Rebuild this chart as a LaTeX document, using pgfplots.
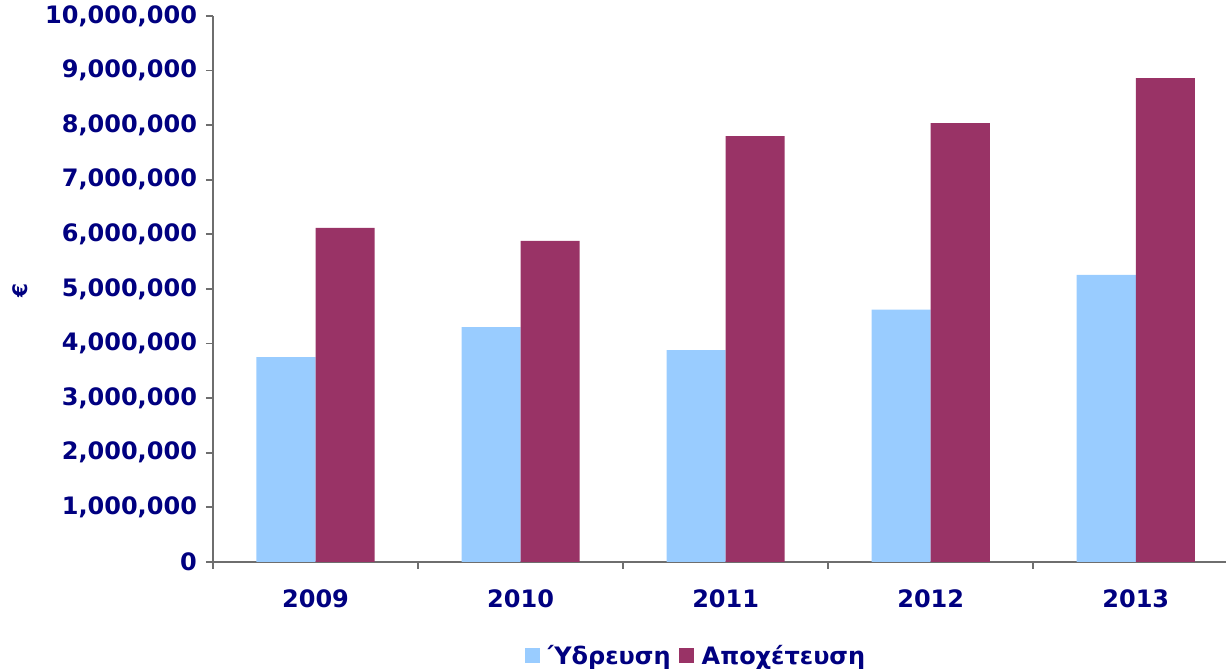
\documentclass[border=0pt]{standalone}
\usepackage{pgfplots}
\pgfplotsset{compat=1.18}
\usepackage{fontspec}
\setmainfont{DejaVu Sans}
\definecolor{labelnavy}{RGB}{0,0,128}
\definecolor{waterblue}{RGB}{153,204,255}
\definecolor{sewerred}{RGB}{153,51,102}
\definecolor{axisgray}{RGB}{110,110,110}

% Annual amounts (EUR): water supply and sewerage
\pgfplotstableread{
x   water     sewer
0   3750000   6120000
1   4300000   5880000
2   3880000   7800000
3   4620000   8040000
4   5260000   8860000
}\amounts

\begin{document}
\begin{tikzpicture}
\path[use as bounding box] (-106.5pt,-55pt) rectangle (506.5pt,281pt);
\begin{axis}[
  at={(0,0)}, anchor=south west,
  scale only axis,
  width=506.5pt, height=273pt,
  xmin=-0.5, xmax=4.44,
  ymin=0, ymax=10000000,
  axis lines*=left,
  axis line style={draw=axisgray, line width=0.9pt},
  tick align=outside,
  major tick length=3.5pt,
  minor tick length=3.5pt,
  ytick={0,1000000,...,10000000},
  scaled y ticks=false,
  /pgf/number format/fixed,
  /pgf/number format/1000 sep={,},
  /pgf/number format/assume math mode=true,
  ytick style={draw=axisgray, line width=0.9pt},
  xtick={0,1,2,3,4},
  xticklabels={2009,2010,2011,2012,2013},
  major x tick style={draw=none},
  minor xtick={-0.5,0.5,1.5,2.5,3.5},
  minor x tick style={draw=axisgray, line width=0.9pt},
  tick label style={font=\fontsize{12}{14}\selectfont\bfseries, text=labelnavy},
  xticklabel style={yshift=-7pt},
  yticklabel style={xshift=-1pt},
  ylabel={€},
  ylabel style={at={(axis description cs:-0.1905,0.498)}, anchor=center,
    font=\fontsize{10}{12}\selectfont\bfseries, text=labelnavy},
  bar width=0.288,
  legend style={at={(axis description cs:0.478,-0.172)}, anchor=center,
    draw=none, fill=none, legend columns=2,
    font=\fontsize{12}{14}\selectfont\bfseries, text=labelnavy,
    /tikz/every even column/.append style={column sep=2pt}},
  legend image code/.code={\fill[#1] (0pt,-3.75pt) rectangle (7.5pt,3.75pt); \path (9.5pt,0pt);},
]
\addplot[ybar, fill=waterblue, draw=none, bar shift=-0.144] table[x=x, y=water] {\amounts};
\addlegendentry{Ύδρευση}
\addplot[ybar, fill=sewerred, draw=none, bar shift=0.144] table[x=x, y=sewer] {\amounts};
\addlegendentry{Αποχέτευση}
\end{axis}
\end{tikzpicture}
\end{document}
